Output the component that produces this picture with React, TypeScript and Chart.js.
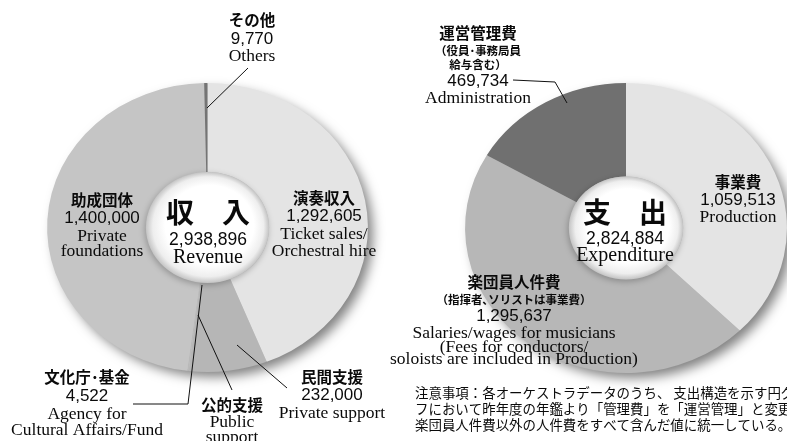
import React, { useEffect, useRef } from "react";
import { Chart, registerables } from "chart.js";
Chart.register(...registerables);

const W = 787;
const H = 441;

// ---------- Revenue (収入) ----------
const revenueCategories = ["演奏収入", "民間支援", "文化庁･基金", "助成団体", "その他"];
const revenueEnglish = ["Ticket sales/\nOrchestral hire", "Private support", "Agency for\nCultural Affairs/Fund", "Private\nfoundations", "Others"];
const revenueValues = [1292605, 232000, 4522, 1400000, 9770];
const revenueTotal = 2938896;
const revenueTitle = "収　入";
const revenueTitleEn = "Revenue";
const revenueGroupLabel = "公的支援";
const revenueGroupEnglish = "Public\nsupport";

// ---------- Expenditure (支出) ----------
const expenditureCategories = ["事業費", "楽団員人件費", "運営管理費"];
const expenditureNotes = ["", "（指揮者､ソリストは事業費）", "（役員･事務局員\n給与含む）"];
const expenditureEnglish = ["Production", "Salaries/wages for musicians\n(Fees for conductors/\nsoloists are included in Production)", "Administration"];
const expenditureValues = [1059513, 1295637, 469734];
const expenditureTotal = 2824884;
const expenditureTitle = "支　出";
const expenditureTitleEn = "Expenditure";

const footnoteLines = [
  "注意事項：各オーケストラデータのうち、 支出構造を示す円グラ",
  "フにおいて昨年度の年鑑より「管理費」を「運営管理」と変更し、",
  "楽団員人件費以外の人件費をすべて含んだ値に統一している。",
];

// ---------- styles / layout ----------
const revenueColors = ["#e4e4e4", "#b6b6b6", "#b9b9b9", "#c5c5c5", "#747474"];
const expenditureColors = ["#e4e4e4", "#b7b7b7", "#707070"];

const FONT_JP = '700 15.5px "Noto Sans CJK JP"';
const FONT_JP_SMALL = '700 11.5px "Noto Sans CJK JP"';
const FONT_NUM = '17px "Liberation Sans"';
const FONT_EN = '17.5px "Liberation Serif"';
const FONT_TITLE = '700 28px "Noto Sans CJK JP"';
const FONT_TITLE_NUM = '17.5px "Liberation Sans"';
const FONT_TITLE_EN = '20px "Liberation Serif"';
const FONT_NOTE = '400 13.45px "Noto Sans CJK JP"';

const revenueLabelPos = [
  { x: 324, y: [198, 216, 234, 251] },
  { x: 332, y: [377, 395, 413] },
  { x: 87, y: [377, 396, 414, 430] },
  { x: 102, y: [200, 218, 236, 251] },
  { x: 252, y: [20, 39, 56] },
];
const revenueGroupPos = { x: 232, y: [405, 422, 437] };
const revenueCenterPos = { x: 208, y: [212, 240, 258] };
const revenueLeaders = [
  [248, 68, 207, 108],
  [133, 404, 188, 404, 202, 285],
  [232, 390, 198, 315],
  [287, 388, 237, 345],
];

const expenditureLabelPos = [
  { x: 738, y: [182, 200, 217] },
  { x: 514, y: [282, 300, 316, 333, 347, 359] },
  { x: 478, y: [33, 51, 65, 81, 98] },
];
const expenditureCenterPos = { x: 625, y: [212, 239, 256] };
const expenditureLeaders = [[513, 80, 555, 82, 567, 103]];
const footnotePos = { x: 415, y: [393, 409, 425] };

const fmt = (v: number) => v.toLocaleString("en-US");

type Line = { t: string; f: string };
type Block = { x: number; y: number[]; lines: Line[]; align?: CanvasTextAlign };

function buildBlocks(cats: string[], notes: string[] | null, values: number[], eng: string[], pos: { x: number; y: number[] }[]): Block[] {
  return cats.map((c, i) => {
    const lines: Line[] = [{ t: c, f: FONT_JP }];
    if (notes && notes[i]) notes[i].split("\n").forEach((n) => lines.push({ t: n, f: FONT_JP_SMALL }));
    lines.push({ t: fmt(values[i]), f: FONT_NUM });
    eng[i].split("\n").forEach((e) => lines.push({ t: e, f: FONT_EN }));
    return { x: pos[i].x, y: pos[i].y, lines };
  });
}

const ellipsePlugin = {
  id: "ellipse",
  beforeDatasetsDraw(chart: any, _a: any, opts: any) {
    const arc = chart.getDatasetMeta(0).data[0];
    const { x, y, outerRadius } = arc.getProps(["x", "y", "outerRadius"], true);
    const ctx = chart.ctx as CanvasRenderingContext2D;
    ctx.save();
    ctx.translate(x, y);
    ctx.scale(opts.sx, 1);
    ctx.translate(-x, -y);
    ctx.save();
    ctx.shadowColor = "rgba(0,0,0,0.5)";
    ctx.shadowBlur = 12;
    ctx.shadowOffsetX = 6;
    ctx.shadowOffsetY = 6;
    ctx.beginPath();
    ctx.arc(x, y, outerRadius - 1, 0, Math.PI * 2);
    ctx.fillStyle = "#c8c8c8";
    ctx.fill();
    ctx.restore();
  },
  afterDatasetsDraw(chart: any, _a: any, opts: any) {
    const arc = chart.getDatasetMeta(0).data[0];
    const { x, y, innerRadius } = arc.getProps(["x", "y", "innerRadius"], true);
    const ctx = chart.ctx as CanvasRenderingContext2D;
    const r = innerRadius;
    ctx.save();
    ctx.shadowColor = "rgba(0,0,0,0.25)";
    ctx.shadowBlur = 6;
    ctx.shadowOffsetX = -1;
    ctx.shadowOffsetY = 2;
    const g = ctx.createRadialGradient(x + r * 0.12, y - r * 0.15, 0, x, y, r);
    g.addColorStop(0, "#ffffff");
    g.addColorStop(0.72, "#ffffff");
    g.addColorStop(0.9, "#eeeeee");
    g.addColorStop(1, "#c4c4c4");
    ctx.beginPath();
    ctx.arc(x, y, r, 0, Math.PI * 2);
    ctx.fillStyle = g;
    ctx.fill();
    ctx.restore();
    ctx.restore();
  },
};

const labelsPlugin = {
  id: "labels",
  afterDraw(chart: any, _a: any, opts: any) {
    const ctx = chart.ctx as CanvasRenderingContext2D;
    ctx.save();
    ctx.strokeStyle = "#111";
    ctx.lineWidth = 1;
    (opts.leaders || []).forEach((pts: number[]) => {
      ctx.beginPath();
      ctx.moveTo(pts[0], pts[1]);
      for (let i = 2; i < pts.length; i += 2) ctx.lineTo(pts[i], pts[i + 1]);
      ctx.stroke();
    });
    ctx.fillStyle = "#0a0a0a";
    ctx.textBaseline = "middle";
    (opts.blocks || []).forEach((b: Block) => {
      ctx.textAlign = b.align || "center";
      b.lines.forEach((l, i) => {
        ctx.font = l.f;
        ctx.fillText(l.t, b.x, b.y[i]);
      });
    });
    ctx.restore();
  },
};

function makeChart(canvas: HTMLCanvasElement, values: number[], colors: string[], cutout: string, padding: any, sx: number, blocks: Block[], leaders: number[][]) {
  return new Chart(canvas, {
    type: "doughnut",
    data: {
      labels: values.map((_, i) => String(i)),
      datasets: [{ data: values, backgroundColor: colors, borderWidth: 0, clip: false } as any],
    },
    options: {
      responsive: false,
      animation: false,
      cutout,
      layout: { padding },
      events: [],
      plugins: {
        legend: { display: false },
        tooltip: { enabled: false },
        ellipse: { sx },
        labels: { blocks, leaders },
      } as any,
    },
    plugins: [ellipsePlugin, labelsPlugin],
  });
}

export default function App() {
  const leftRef = useRef<HTMLCanvasElement>(null);
  const rightRef = useRef<HTMLCanvasElement>(null);

  useEffect(() => {
    const leftBlocks = buildBlocks(revenueCategories, null, revenueValues, revenueEnglish, revenueLabelPos);
    leftBlocks.push({
      x: revenueGroupPos.x,
      y: revenueGroupPos.y,
      lines: [{ t: revenueGroupLabel, f: FONT_JP }, ...revenueGroupEnglish.split("\n").map((t) => ({ t, f: FONT_EN }))],
    });
    leftBlocks.push({
      x: revenueCenterPos.x,
      y: revenueCenterPos.y,
      lines: [
        { t: revenueTitle, f: FONT_TITLE },
        { t: fmt(revenueTotal), f: FONT_TITLE_NUM },
        { t: revenueTitleEn, f: FONT_TITLE_EN },
      ],
    });

    const rightBlocks = buildBlocks(expenditureCategories, expenditureNotes, expenditureValues, expenditureEnglish, expenditureLabelPos);
    rightBlocks.push({
      x: expenditureCenterPos.x,
      y: expenditureCenterPos.y,
      lines: [
        { t: expenditureTitle, f: FONT_TITLE },
        { t: fmt(expenditureTotal), f: FONT_TITLE_NUM },
        { t: expenditureTitleEn, f: FONT_TITLE_EN },
      ],
    });
    rightBlocks.push({
      x: footnotePos.x,
      y: footnotePos.y,
      align: "left",
      lines: footnoteLines.map((t) => ({ t, f: FONT_NOTE })),
    });

    const c1 = makeChart(leftRef.current!, revenueValues, revenueColors, "38.4%", { left: 63, right: 435, top: 83, bottom: 69 }, 1.11, leftBlocks, revenueLeaders);
    const c2 = makeChart(rightRef.current!, expenditureValues, expenditureColors, "35.5%", { left: 481, right: 16, top: 83, bottom: 68 }, 1.11, rightBlocks, expenditureLeaders);
    return () => {
      c1.destroy();
      c2.destroy();
    };
  }, []);

  const cs: React.CSSProperties = { position: "absolute", left: 0, top: 0, width: W, height: H };
  return (
    <div style={{ position: "fixed", left: 0, top: 0, width: W, height: H, background: "#fff", overflow: "hidden" }}>
      <canvas ref={leftRef} width={W} height={H} style={cs} />
      <canvas ref={rightRef} width={W} height={H} style={cs} />
    </div>
  );
}
